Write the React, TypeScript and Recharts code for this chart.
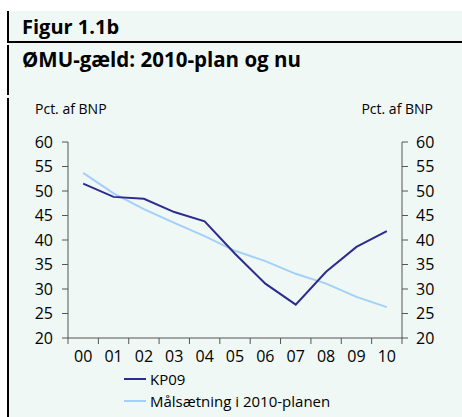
import React from "react";
import { LineChart, Line, XAxis, YAxis } from "recharts";

const years = ["00", "01", "02", "03", "04", "05", "06", "07", "08", "09", "10"];
const kp09 = [51.5, 48.8, 48.4, 45.7, 43.8, 37.2, 31.1, 26.8, 33.5, 38.6, 41.8];
const maal = [53.7, 49.5, 46.3, 43.5, 40.8, 37.8, 35.7, 33.1, 31.1, 28.4, 26.3];
const yTicks = [20, 25, 30, 35, 40, 45, 50, 55, 60];

const seriesNames = ["KP09", "Målsætning i 2010-planen"];
const colors = ["#2c2b8e", "#a3d0fa"];

const data = years.map((y, i) => ({ i, kp09: kp09[i], maal: maal[i] }));
// tick marks sit between the years, labels in the middle of each band
const bandTicks = [...years.map((_, i) => i - 0.5), years.length - 0.5];

const font = "'Open Sans', sans-serif";
const axisColor = "#555";
const textColor = "#000";
const tickFont = 16;

const W = 462;
const H = 417;
const margin = { top: 142, right: 0, bottom: 39, left: 8 };
const yAxisW = 60;
const xAxisH = 40;
const plotW = W - margin.left - margin.right - 2 * yAxisW;
const band = plotW / years.length;

const XTick = (props: any) => {
  const { x, y, payload } = props;
  const idx = payload.value + 0.5;
  if (idx >= years.length) return null;
  return (
    <text x={x + band / 2} y={y} dy="0.71em" textAnchor="middle" fontSize={tickFont} fill={textColor} fontFamily={font}>
      {years[idx]}
    </text>
  );
};

const YTick = (props: any) => {
  const { x, y, payload, textAnchor } = props;
  return (
    <text x={x} y={y} dy="0.355em" textAnchor={textAnchor} fontSize={tickFont} fill={textColor} fontFamily={font}>
      {payload.value}
    </text>
  );
};

export default function App() {
  return (
    <div
      style={{
        position: "absolute",
        left: 0,
        top: 0,
        width: W,
        height: H,
        background: "#fff",
        fontFamily: font,
        color: textColor,
        overflow: "hidden",
      }}
    >
      {/* panel */}
      <div style={{ position: "absolute", left: 7, top: 11, width: 455, height: 406, background: "#eff8f5" }} />
      <div style={{ position: "absolute", left: 7, top: 11, width: 1.5, height: 31, background: "#000" }} />
      <div style={{ position: "absolute", left: 7, top: 45, width: 1.5, height: 50, background: "#000" }} />
      <div style={{ position: "absolute", left: 7, top: 98, width: 1.5, height: 319, background: "#000" }} />
      <div style={{ position: "absolute", left: 7, top: 41, width: 455, height: 1.5, background: "#000" }} />

      <div style={{ position: "absolute", left: 22, top: 17, fontSize: 20, fontWeight: 700, lineHeight: 1 }}>
        Figur 1.1b
      </div>
      <div style={{ position: "absolute", left: 22, top: 48.5, fontSize: 20.5, fontWeight: 700, lineHeight: 1 }}>
        ØMU-gæld: 2010-plan og nu
      </div>

      <div style={{ position: "absolute", left: 35, top: 101.5, fontSize: 14, lineHeight: 1 }}>Pct. af BNP</div>
      <div style={{ position: "absolute", right: 29, top: 101.5, fontSize: 14, lineHeight: 1 }}>Pct. af BNP</div>

      <div style={{ position: "absolute", left: 0, top: 0 }}>
        <LineChart width={W} height={H} data={data} margin={margin}>
          <XAxis
            type="number"
            dataKey="i"
            domain={[-0.5, 10.5]}
            ticks={bandTicks}
            interval={0}
            tick={<XTick />}
            tickSize={6}
            tickMargin={7}
            height={xAxisH}
            stroke={axisColor}
            allowDataOverflow
          />
          <YAxis
            yAxisId="left"
            domain={[20, 60]}
            ticks={yTicks}
            interval={0}
            width={yAxisW}
            tickSize={6}
            tickMargin={9}
            stroke={axisColor}
            tick={<YTick />}
          />
          <YAxis
            yAxisId="right"
            orientation="right"
            domain={[20, 60]}
            ticks={yTicks}
            interval={0}
            width={yAxisW}
            tickSize={6}
            tickMargin={8}
            stroke={axisColor}
            tick={<YTick />}
          />
          <Line
            yAxisId="right"
            dataKey="maal"
            stroke={colors[1]}
            strokeWidth={2}
            dot={false}
            isAnimationActive={false}
          />
          <Line
            yAxisId="left"
            dataKey="kp09"
            stroke={colors[0]}
            strokeWidth={2}
            dot={false}
            isAnimationActive={false}
          />
        </LineChart>
      </div>

      {/* legend */}
      {seriesNames.map((name, k) => (
        <div
          key={name}
          style={{
            position: "absolute",
            left: 124,
            top: 369 + k * 22,
            height: 20,
            display: "flex",
            alignItems: "center",
            fontSize: 15,
          }}
        >
          <span style={{ display: "inline-block", width: 22, height: 2, background: colors[k], marginRight: 4 }} />
          {name}
        </div>
      ))}
    </div>
  );
}
